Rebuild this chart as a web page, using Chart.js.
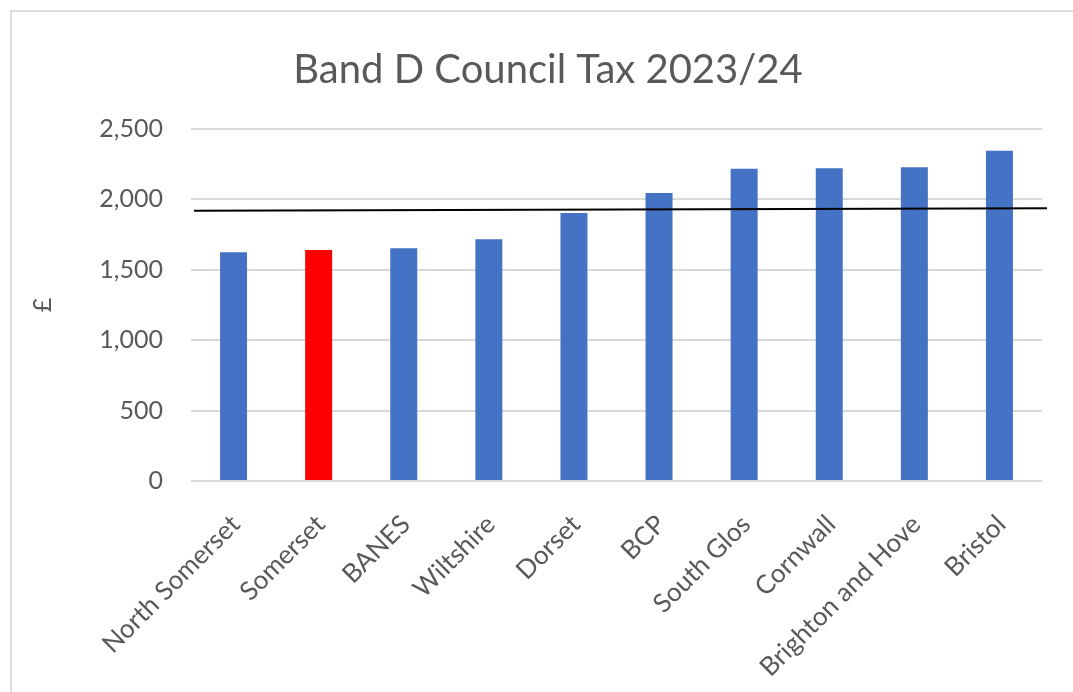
<!DOCTYPE html>
<html>
<head>
<meta charset="utf-8">
<script src="https://cdn.jsdelivr.net/npm/chart.js@4"></script>
<style>
  html, body { margin: 0; padding: 0; background: #fff; overflow: hidden; }
  #wrap { position: relative; width: 1073px; height: 692px; }
  #frame { position: absolute; left: 10px; top: 10px; width: 1100px; height: 720px;
           border: 2px solid #dcdcdc; box-sizing: border-box; }
  canvas { position: absolute; left: 0; top: 0; }
</style>
</head>
<body>
<div id="wrap">
  <div id="frame"></div>
  <canvas id="chart" width="1073" height="692"></canvas>
</div>
<script>
const chartTitle = 'Band D Council Tax 2023/24';
const councils = ["North Somerset", "Somerset", "BANES", "Wiltshire", "Dorset",
                  "BCP", "South Glos", "Cornwall", "Brighton and Hove", "Bristol"];
const bandD = [1624, 1641, 1653, 1717, 1904, 2046, 2217, 2222, 2229, 2345];
const yTicks = [0, 500, 1000, 1500, 2000, 2500];
// hand drawn reference line, value at left and right end
const refLine = [1920, 1937];
const highlight = "Somerset";

const textGrey = '#595959';
const font = "Lato, 'Open Sans', sans-serif";

// Excel puts the title a bit left of the plot centre, so draw it ourselves
const titlePlugin = {
  id: 'excelTitle',
  afterDraw(chart) {
    const ctx = chart.ctx;
    ctx.save();
    ctx.fillStyle = textGrey;
    ctx.font = `40px ${font}`;
    ctx.textAlign = 'center';
    ctx.textBaseline = 'middle';
    ctx.fillText(chartTitle, 548, 70);
    ctx.restore();
  }
};

const refLinePlugin = {
  id: 'refLine',
  afterDatasetsDraw(chart) {
    const { ctx, chartArea, scales } = chart;
    ctx.save();
    ctx.strokeStyle = '#000';
    ctx.lineWidth = 2;
    ctx.beginPath();
    ctx.moveTo(chartArea.left + 3, scales.y.getPixelForValue(refLine[0]));
    ctx.lineTo(chartArea.right + 5, scales.y.getPixelForValue(refLine[1]));
    ctx.stroke();
    ctx.restore();
  }
};

new Chart(document.getElementById('chart'), {
  type: 'bar',
  data: {
    labels: councils,
    datasets: [{
      data: bandD,
      backgroundColor: councils.map(c => c === highlight ? '#ff0000' : '#4472c4'),
      borderWidth: 0,
      categoryPercentage: 1,
      barPercentage: 0.317
    }]
  },
  options: {
    responsive: false,
    animation: false,
    layout: { padding: { left: 18, right: 31, top: 129, bottom: 0 } },
    plugins: {
      legend: { display: false },
      tooltip: { enabled: false },
      title: { display: false }
    },
    scales: {
      x: {
        grid: { display: false },
        border: { display: false },
        ticks: {
          color: textGrey,
          font: { size: 26, family: font },
          minRotation: 45,
          maxRotation: 45,
          padding: 20,
          labelOffset: 2,
          autoSkip: false
        },
        afterFit(scale) { scale.height = 211; }
      },
      y: {
        min: 0,
        max: 2500,
        afterBuildTicks(scale) { scale.ticks = yTicks.map(v => ({ value: v })); },
        grid: { color: '#d9d9d9', lineWidth: 2, drawTicks: false },
        border: { display: false },
        ticks: {
          color: textGrey,
          font: { size: 25, family: font },
          padding: 28,
          callback: v => v.toLocaleString('en-GB')
        },
        title: {
          display: true,
          text: '£',
          color: textGrey,
          font: { size: 25, family: font },
          padding: { top: 10, bottom: 0 }
        },
        afterFit(scale) { scale.width = 173; }
      }
    }
  },
  plugins: [refLinePlugin, titlePlugin]
});
</script>
</body>
</html>
